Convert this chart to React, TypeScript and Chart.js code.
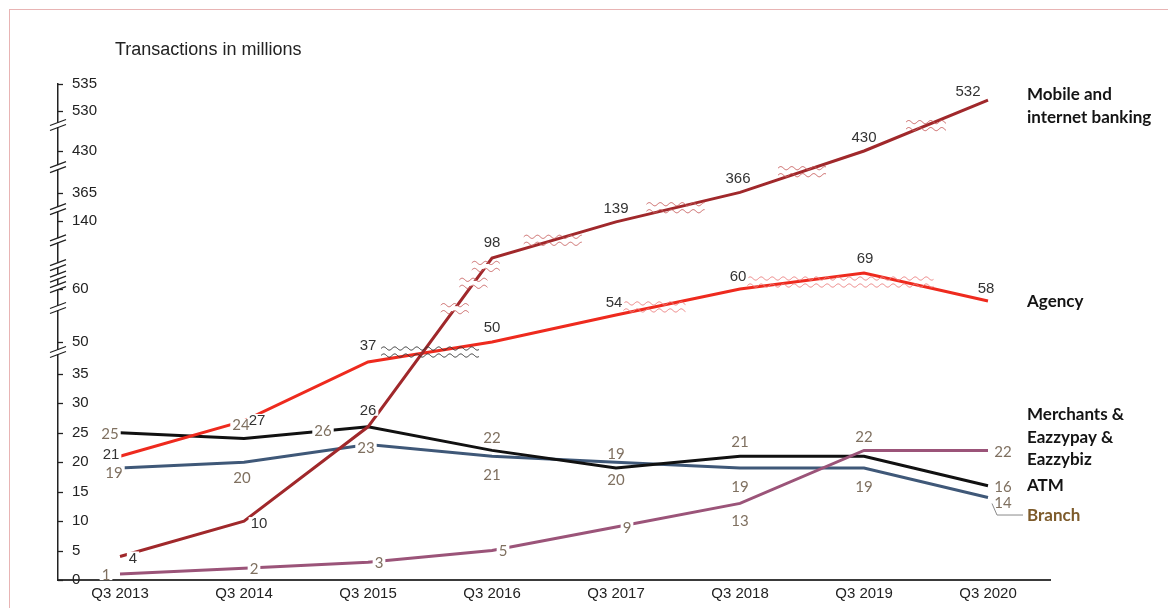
import React, { useEffect, useRef } from 'react';
import { Chart, registerables, LinearScale } from 'chart.js';

// ---------- data ----------
const quarters = ['Q3 2013', 'Q3 2014', 'Q3 2015', 'Q3 2016', 'Q3 2017', 'Q3 2018', 'Q3 2019', 'Q3 2020'];
const mobileBanking = [4, 10, 26, 98, 139, 366, 430, 532];
const agency = [21, 27, 37, 50, 54, 60, 69, 58];
const merchants = [1, 2, 3, 5, 9, 13, 22, 22];
const atm = [25, 24, 26, 22, 19, 21, 21, 16];
const branch = [19, 20, 23, 21, 20, 19, 19, 14];

const yTickValues = [0, 5, 10, 15, 20, 25, 30, 35, 50, 60, 140, 365, 430, 530, 535];
const titleText = 'Transactions in millions';

// ---------- broken axis definition: [value, share of axis height] ----------
const axisKnots: [number, number][] = [
  [0, 0], [37, 0.4395], [50, 0.4798], [54, 0.5343], [58, 0.5625], [60, 0.5867],
  [69, 0.619], [98, 0.6492], [140, 0.7238], [365, 0.7802], [430, 0.8649], [530, 0.9456], [535, 1],
];
const axisBreakValues = [43.5, 56, 61, 67, 84, 118, 236, 405, 495];

function valueToShare(v: number): number {
  const k = axisKnots;
  let i = 0;
  while (i < k.length - 2 && v > k[i + 1][0]) i++;
  const [v0, s0] = k[i];
  const [v1, s1] = k[i + 1];
  return s0 + ((v - v0) / (v1 - v0)) * (s1 - s0);
}
function shareToValue(s: number): number {
  const k = axisKnots;
  let i = 0;
  while (i < k.length - 2 && s > k[i + 1][1]) i++;
  const [v0, s0] = k[i];
  const [v1, s1] = k[i + 1];
  return v0 + ((s - s0) / (s1 - s0)) * (v1 - v0);
}

class BrokenScale extends LinearScale {
  static id = 'brokenLinear';
  buildTicks() {
    (this as any).start = (this as any).min;
    (this as any).end = (this as any).max;
    return yTickValues.map((v) => ({ value: v }));
  }
  getPixelForValue(value: number) {
    return this.getPixelForDecimal(valueToShare(value));
  }
  getValueForPixel(pixel: number) {
    return shareToValue(this.getDecimalForPixel(pixel));
  }
}

Chart.register(...registerables, BrokenScale as any);

// ---------- styling ----------
type Off = [number, number] | null;
const mobileLabelOffsets: Off[] = [[13, 1], [15, 2], [0, -17], [0, -16], [0, -14], [-2, -15], [0, -14], [-20, -9]];
const agencyLabelOffsets: Off[] = [[-9, -2], [13, -1], [0, -17], [0, -15], [-2, -13], [-2, -13], [1, -15], [-2, -13]];
const merchantsLabelOffsets: Off[] = [[-14, 0], [10, 0], [11, 0], [11, 0], [11, 0], [0, 17], [0, -14], [15, 1]];
const atmLabelOffsets: Off[] = [[-10, 0], [-3, -14], [-45, 3], [0, -13], [0, -15], [0, -15], null, [15, 0]];
const branchLabelOffsets: Off[] = [[-6, 4], [-2, 15], [-2, 3], [0, 18], [0, 17], [0, 18], [0, 18], [15, 5]];

const labelStyles: Record<string, { font: string; color: string }> = {
  dark: { font: '15px "Liberation Sans"', color: '#333333' },
  soft: { font: '15px Lato', color: '#7F7060' },
};

const seriesConfig = [
  { label: 'Mobile and internet banking', data: mobileBanking, color: '#A0282B', offsets: mobileLabelOffsets, style: 'dark',
    nameLines: ['Mobile and', 'internet banking'], nameDy: [-6, 17], nameColor: '#141414' },
  { label: 'Agency', data: agency, color: '#EE2A1E', offsets: agencyLabelOffsets, style: 'dark',
    nameLines: ['Agency'], nameDy: [1], nameColor: '#141414' },
  { label: 'Merchants & Eazzypay & Eazzybiz', data: merchants, color: '#9B5479', offsets: merchantsLabelOffsets, style: 'soft',
    nameLines: ['Merchants &', 'Eazzypay &', 'Eazzybiz'], nameDy: [-36, -13, 9], nameColor: '#141414' },
  { label: 'ATM', data: atm, color: '#111111', offsets: atmLabelOffsets, style: 'soft',
    nameLines: ['ATM'], nameDy: [0], nameColor: '#141414' },
  { label: 'Branch', data: branch, color: '#3F5878', offsets: branchLabelOffsets, style: 'soft',
    nameLines: ['Branch'], nameDy: [18], nameColor: '#7D5B2B' },
];

// squiggle break marks on the lines: dataset index, fractional category index
const lineBreaks = [
  { ds: 0, at: 2.7, width: 28, dy: 0, color: '#C9605F', cut: true },
  { ds: 0, at: 2.85, width: 28, dy: 0, color: '#C9605F', cut: true },
  { ds: 0, at: 2.95, width: 28, dy: 0, color: '#C9605F', cut: true },
  { ds: 0, at: 3.49, width: 58, dy: 0, color: '#C9605F', cut: false },
  { ds: 0, at: 4.48, width: 58, dy: 0, color: '#C9605F', cut: false },
  { ds: 0, at: 5.5, width: 48, dy: 0, color: '#C9605F', cut: false },
  { ds: 0, at: 6.5, width: 40, dy: 0, color: '#C9605F', cut: false },
  { ds: 1, at: 2.5, width: 98, dy: 0, color: '#333333', cut: false },
  { ds: 1, at: 4.31, width: 62, dy: 0, color: '#EE8080', cut: false },
  { ds: 1, at: 5.81, width: 186, dy: 6, color: '#EE8080', cut: false },
];

function wave(ctx: CanvasRenderingContext2D, x0: number, x1: number, y: number) {
  const amp = 1.6;
  const period = 11;
  ctx.beginPath();
  for (let x = x0; x <= x1; x += 0.5) {
    const yy = y - amp * Math.sin(((x - x0) / period) * Math.PI * 2);
    if (x === x0) ctx.moveTo(x, yy);
    else ctx.lineTo(x, yy);
  }
  ctx.stroke();
}

const decorPlugin = {
  id: 'decor',
  beforeDraw(chart: any) {
    const { ctx, chartArea } = chart;
    ctx.save();
    ctx.fillStyle = '#ffffff';
    ctx.fillRect(0, 0, chart.width, chart.height);
    ctx.strokeStyle = '#E8B4B4';
    ctx.lineWidth = 1;
    ctx.strokeRect(9.5, 9.5, chart.width + 40, chart.height + 40);
    ctx.fillStyle = '#222222';
    ctx.font = '18px "Liberation Sans"';
    ctx.textBaseline = 'middle';
    ctx.textAlign = 'left';
    ctx.fillText(titleText, chartArea.left + 57, chartArea.top - 34);
    ctx.restore();
  },
  afterDatasetsDraw(chart: any) {
    const { ctx, chartArea } = chart;
    const yScale = chart.scales.y;
    const pointAt = (ds: number, t: number) => {
      const pts = chart.getDatasetMeta(ds).data;
      const i = Math.min(Math.floor(t), pts.length - 2);
      const f = t - i;
      return { x: pts[i].x + (pts[i + 1].x - pts[i].x) * f, y: pts[i].y + (pts[i + 1].y - pts[i].y) * f };
    };
    ctx.save();

    // line squiggles
    lineBreaks.forEach((b) => {
      const p = pointAt(b.ds, b.at);
      const cy = p.y + b.dy;
      const x0 = p.x - b.width / 2;
      const x1 = p.x + b.width / 2;
      if (b.cut) {
        ctx.fillStyle = '#ffffff';
        ctx.fillRect(x0 + 2, cy - 2.5, b.width - 4, 5);
      }
      ctx.strokeStyle = b.color;
      ctx.lineWidth = 1;
      wave(ctx, x0, x1, cy - 3.5);
      wave(ctx, x0, x1, cy + 3.5);
    });

    // y axis ticks & breaks
    const left = chartArea.left;
    ctx.strokeStyle = '#222222';
    ctx.lineWidth = 1.3;
    yTickValues.forEach((v) => {
      const py = Math.round(yScale.getPixelForValue(v)) + 0.5;
      ctx.beginPath();
      ctx.moveTo(left, py);
      ctx.lineTo(left + 5, py);
      ctx.stroke();
    });
    axisBreakValues.forEach((v) => {
      const py = yScale.getPixelForValue(v);
      ctx.fillStyle = '#ffffff';
      ctx.fillRect(left - 2, py - 2, 4, 4);
      ctx.beginPath();
      ctx.moveTo(left - 8, py - 2.5 + 3);
      ctx.lineTo(left + 8, py - 2.5 - 3);
      ctx.moveTo(left - 8, py + 2.5 + 3);
      ctx.lineTo(left + 8, py + 2.5 - 3);
      ctx.stroke();
    });

    // data labels
    const items: { text: string; x: number; y: number; font: string; color: string }[] = [];
    seriesConfig.forEach((s, di) => {
      const pts = chart.getDatasetMeta(di).data;
      s.offsets.forEach((off, i) => {
        if (!off) return;
        const st = labelStyles[s.style];
        items.push({ text: String(s.data[i]), x: pts[i].x + off[0], y: pts[i].y + off[1], font: st.font, color: st.color });
      });
    });
    ctx.textAlign = 'center';
    ctx.textBaseline = 'middle';
    items.forEach((it) => {
      ctx.font = it.font;
      const w = ctx.measureText(it.text).width;
      ctx.fillStyle = '#ffffff';
      ctx.fillRect(it.x - w / 2 - 2, it.y - 6, w + 4, 12);
    });
    items.forEach((it) => {
      ctx.font = it.font;
      ctx.fillStyle = it.color;
      ctx.fillText(it.text, it.x, it.y + 1);
    });

    // series names
    ctx.textAlign = 'left';
    ctx.font = 'bold 17px Lato';
    const nameX = chartArea.right - 23;
    seriesConfig.forEach((s, di) => {
      const pts = chart.getDatasetMeta(di).data;
      const last = pts[pts.length - 1];
      ctx.fillStyle = s.nameColor;
      s.nameLines.forEach((ln, k) => ctx.fillText(ln, nameX, last.y + s.nameDy[k]));
    });

    // branch leader line
    const bPts = chart.getDatasetMeta(4).data;
    const bl = bPts[bPts.length - 1];
    ctx.strokeStyle = '#8A8A8A';
    ctx.lineWidth = 1;
    ctx.beginPath();
    ctx.moveTo(bl.x + 4, bl.y + 6);
    ctx.lineTo(bl.x + 9, bl.y + 17.5);
    ctx.lineTo(nameX - 4, bl.y + 17.5);
    ctx.stroke();

    ctx.restore();
  },
};

export default function App() {
  const ref = useRef<HTMLCanvasElement>(null);
  useEffect(() => {
    let chart: Chart | null = null;
    let cancelled = false;
    const fonts = (document as any).fonts;
    const ready = fonts
      ? Promise.all([
          fonts.load('15px Lato'),
          fonts.load('bold 17px Lato'),
          fonts.load('15px "Liberation Sans"'),
        ]).catch(() => null)
      : Promise.resolve(null);
    ready.then(() => {
      if (cancelled || !ref.current) return;
      chart = new Chart(ref.current, {
        type: 'line',
        data: {
          labels: quarters,
          datasets: seriesConfig.map((s) => ({
            label: s.label,
            data: s.data,
            borderColor: s.color,
            backgroundColor: s.color,
            borderWidth: 3,
            pointRadius: 0,
            tension: 0,
            fill: false,
          })),
        },
        options: {
          responsive: false,
          animation: false,
          devicePixelRatio: 1,
          layout: { padding: { left: 58, right: 118, top: 84, bottom: 0 } },
          plugins: {
            legend: { display: false },
            tooltip: { enabled: false },
            title: { display: false },
          },
          scales: {
            x: {
              type: 'category',
              offset: true,
              grid: { display: false, drawTicks: false },
              border: { display: true, color: '#3A3A3A', width: 2 },
              ticks: {
                font: { family: '"Liberation Sans"', size: 15 },
                color: '#222222',
                padding: 5,
                maxRotation: 0,
                autoSkip: false,
              },
              afterFit: (s: any) => { s.height = 28; },
            },
            y: {
              type: 'brokenLinear' as any,
              min: 0,
              max: 535,
              grid: { display: false, drawTicks: false },
              border: { display: true, color: '#222222', width: 1.5 },
              ticks: {
                mirror: true,
                padding: 14,
                autoSkip: false,
                font: { family: '"Liberation Sans"', size: 15 },
                color: '#222222',
                callback: (v: any) => String(v),
              },
              afterFit: (s: any) => { s.width = 0; },
            },
          },
        } as any,
        plugins: [decorPlugin],
      });
    });
    return () => {
      cancelled = true;
      if (chart) chart.destroy();
    };
  }, []);
  return (
    <div style={{ position: 'fixed', left: 0, top: 0, width: 1168, height: 608, background: '#fff' }}>
      <canvas ref={ref} width={1168} height={608} style={{ display: 'block' }} />
    </div>
  );
}
